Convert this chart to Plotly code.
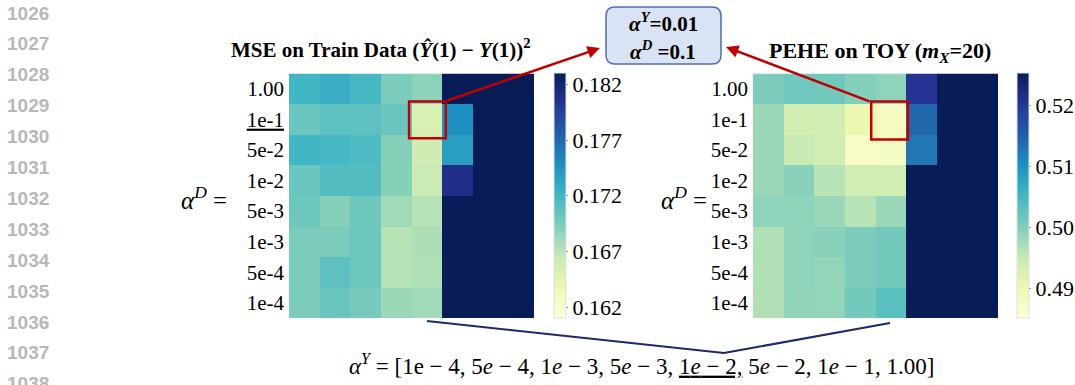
import plotly.graph_objects as go

W, H = 1075, 385

# ---------------- data ----------------
alpha_y_labels = ["1e-4", "5e-4", "1e-3", "5e-3", "1e-2", "5e-2", "1e-1", "1.00"]
alpha_d_labels = ["1.00", "1e-1", "5e-2", "1e-2", "5e-3", "1e-3", "5e-4", "1e-4"]  # top -> bottom

mse_train = [
    [0.1720, 0.1727, 0.1718, 0.1694, 0.1687, 0.1900, 0.1900, 0.1900],
    [0.1702, 0.1707, 0.1707, 0.1702, 0.1652, 0.1748, 0.1900, 0.1900],
    [0.1720, 0.1718, 0.1714, 0.1690, 0.1660, 0.1738, 0.1900, 0.1900],
    [0.1702, 0.1712, 0.1712, 0.1690, 0.1662, 0.1808, 0.1900, 0.1900],
    [0.1700, 0.1690, 0.1700, 0.1680, 0.1671, 0.1900, 0.1900, 0.1900],
    [0.1694, 0.1694, 0.1700, 0.1671, 0.1675, 0.1900, 0.1900, 0.1900],
    [0.1694, 0.1707, 0.1700, 0.1672, 0.1674, 0.1900, 0.1900, 0.1900],
    [0.1694, 0.1702, 0.1696, 0.1682, 0.1680, 0.1900, 0.1900, 0.1900],
]

pehe_toy = [
    [0.5003, 0.5015, 0.5013, 0.4999, 0.4991, 0.5203, 0.5300, 0.5300],
    [0.4983, 0.4935, 0.4939, 0.4902, 0.4882, 0.5144, 0.5300, 0.5300],
    [0.4983, 0.4947, 0.4939, 0.4874, 0.4878, 0.5128, 0.5300, 0.5300],
    [0.4983, 0.4995, 0.4963, 0.4939, 0.4939, 0.5300, 0.5300, 0.5300],
    [0.4991, 0.4991, 0.4983, 0.4963, 0.4983, 0.5300, 0.5300, 0.5300],
    [0.4967, 0.4991, 0.4995, 0.5003, 0.5011, 0.5300, 0.5300, 0.5300],
    [0.4967, 0.4991, 0.4988, 0.5003, 0.5011, 0.5300, 0.5300, 0.5300],
    [0.4967, 0.4989, 0.4988, 0.5011, 0.5031, 0.5300, 0.5300, 0.5300],
]

mse_ticks = [0.162, 0.167, 0.172, 0.177, 0.182]
pehe_ticks = [0.49, 0.50, 0.51, 0.52]
mse_range = (0.161, 0.183)
pehe_range = (0.4851, 0.5253)

line_numbers = [str(n) for n in range(1026, 1039)]
best_y, best_d = "1e-2", "1e-1"

# ---------------- style ----------------
SERIF = "Liberation Serif, Times New Roman, serif"
YLGNBU = ['#ffffd9', '#edf8b1', '#c7e9b4', '#7fcdbb', '#41b6c4',
          '#1d91c0', '#225ea8', '#253494', '#081d58']
cscale = [[i / 8, c] for i, c in enumerate(YLGNBU)]


def px(x):
    return x / W


def py(y):
    return 1 - y / H


left_dom_x = [px(289), px(534)]
right_dom_x = [px(753), px(998)]
dom_y = [py(318), py(73.5)]
cb_len = (318 - 73.5) / H
cb_y = py((318 + 73.5) / 2)


def cbar(x_left, ticks, fmt):
    return dict(
        x=px(x_left), xanchor="left", y=cb_y, yanchor="middle",
        xpad=0, ypad=0,
        len=cb_len, lenmode="fraction", thickness=12, thicknessmode="pixels",
        tickvals=ticks, tickformat=fmt, ticks="outside", ticklen=2,
        tickcolor="#888", outlinewidth=1, outlinecolor="#e0e0e0",
        tickfont=dict(family=SERIF, size=22, color="black"),
    )


fig = go.Figure()

fig.add_trace(go.Heatmap(
    z=mse_train, x=alpha_y_labels, y=alpha_d_labels,
    colorscale=cscale, zmin=mse_range[0], zmax=mse_range[1],
    xaxis="x", yaxis="y", colorbar=cbar(554, mse_ticks, ".3f"),
))

fig.add_trace(go.Heatmap(
    z=pehe_toy, x=alpha_y_labels, y=alpha_d_labels,
    colorscale=cscale, zmin=pehe_range[0], zmax=pehe_range[1],
    xaxis="x2", yaxis="y2", colorbar=cbar(1017, pehe_ticks, ".2f"),
))

left_ticktext = [f"<u>{l}</u>" if l == best_d else l for l in alpha_d_labels]

common_x = dict(showticklabels=False, ticks="", showgrid=False, zeroline=False,
                showline=False)
common_y = dict(ticks="", showgrid=False, zeroline=False, showline=False,
                autorange="reversed", tickmode="array", tickvals=alpha_d_labels,
                tickfont=dict(family=SERIF, size=21, color="black"),
                ticklabelstandoff=4)

fig.update_layout(
    width=W, height=H,
    margin=dict(l=0, r=0, t=0, b=0),
    paper_bgcolor="white", plot_bgcolor="white",
    showlegend=False,
    xaxis=dict(domain=left_dom_x, anchor="y", **common_x),
    yaxis=dict(domain=dom_y, anchor="x", ticktext=left_ticktext, **common_y),
    xaxis2=dict(domain=right_dom_x, anchor="y2", **common_x),
    yaxis2=dict(domain=dom_y, anchor="x2", ticktext=alpha_d_labels, **common_y),
)

ann = []

# line numbers in the page margin
for i, t in enumerate(line_numbers):
    ann.append(dict(xref="paper", yref="paper", x=px(5), y=py(13 + i * 30.9),
                    xanchor="left", yanchor="middle", text=f"<b>{t}</b>",
                    showarrow=False,
                    font=dict(family="Liberation Sans, Arial, sans-serif",
                              size=19, color="#b8b8b8")))

# alpha^D = labels
for xc in (204, 684):
    ann.append(dict(xref="paper", yref="paper", x=px(xc), y=py(198),
                    xanchor="center", yanchor="middle",
                    text="<i>α</i><sup><i>D</i></sup> =", showarrow=False,
                    font=dict(family=SERIF, size=25, color="black")))

# titles
ann.append(dict(xref="paper", yref="paper", x=px(381), y=py(49),
                xanchor="center", yanchor="middle", showarrow=False,
                text="<b>MSE on Train Data (<i>Ŷ</i>(1) − <i>Y</i>(1))<sup>2</sup></b>",
                font=dict(family=SERIF, size=21, color="black")))
ann.append(dict(xref="paper", yref="paper", x=px(880), y=py(52),
                xanchor="center", yanchor="middle", showarrow=False,
                text="<b>PEHE on TOY (<i>m</i><sub><i>X</i></sub>=20)</b>",
                font=dict(family=SERIF, size=22, color="black")))

# boxed best setting
ann.append(dict(xref="paper", yref="paper", x=px(663), y=py(22),
                xanchor="center", yanchor="middle", showarrow=False,
                text="<b><i>α</i><sup><i>Y</i></sup>=0.01</b>",
                font=dict(family=SERIF, size=21, color="black")))
ann.append(dict(xref="paper", yref="paper", x=px(663), y=py(51),
                xanchor="center", yanchor="middle", showarrow=False,
                text="<b><i>α</i><sup><i>D</i></sup> =0.1</b>",
                font=dict(family=SERIF, size=21, color="black")))

# red arrows from highlighted cells to the box
for (hx, hy, tx, ty) in [(600, 48, 446, 101), (726, 47, 871, 102)]:
    ann.append(dict(xref="paper", yref="paper", x=px(hx), y=py(hy),
                    axref="pixel", ayref="pixel", ax=tx - hx, ay=ty - hy,
                    text="", showarrow=True, arrowhead=2, arrowsize=1,
                    arrowwidth=2.5, arrowcolor="#c00000"))

# bottom alpha^Y list
ann.append(dict(xref="paper", yref="paper", x=px(641), y=py(364),
                xanchor="center", yanchor="middle", showarrow=False,
                text=("<i>α</i><sup><i>Y</i></sup> = [1e − 4, 5<i>e</i> − 4, 1<i>e</i> − 3, "
                      "5<i>e</i> − 3, <u>1<i>e</i> − 2,</u> 5<i>e</i> − 2, 1<i>e</i> − 1, 1.00]"),
                font=dict(family=SERIF, size=23, color="black")))

fig.update_layout(annotations=ann)

# shapes
bi = alpha_y_labels.index(best_y)
bj = alpha_d_labels.index(best_d)
shapes = []
shapes.append(dict(type="rect", xref="x", yref="y",
                   x0=bi - 0.58, x1=bi + 0.62, y0=bj - 0.58, y1=bj + 0.62,
                   line=dict(color="#c00000", width=2.5)))
shapes.append(dict(type="rect", xref="x2", yref="y2",
                   x0=bi - 0.64, x1=bi + 0.56, y0=bj - 0.58, y1=bj + 0.66,
                   line=dict(color="#c00000", width=2.5)))

# rounded box
x0, x1, y0, y1, r = 606, 721, 7, 64, 9
path = (f"M {px(x0 + r)} {py(y0)} L {px(x1 - r)} {py(y0)} "
        f"Q {px(x1)} {py(y0)} {px(x1)} {py(y0 + r)} "
        f"L {px(x1)} {py(y1 - r)} Q {px(x1)} {py(y1)} {px(x1 - r)} {py(y1)} "
        f"L {px(x0 + r)} {py(y1)} Q {px(x0)} {py(y1)} {px(x0)} {py(y1 - r)} "
        f"L {px(x0)} {py(y0 + r)} Q {px(x0)} {py(y0)} {px(x0 + r)} {py(y0)} Z")
shapes.append(dict(type="path", xref="paper", yref="paper", path=path,
                   fillcolor="#dae3f3", line=dict(color="#4a70b5", width=1.5),
                   layer="below"))

# V-shaped connector below the heatmaps
vpath = f"M {px(427)} {py(321)} L {px(724)} {py(353)} L {px(890)} {py(323)}"
shapes.append(dict(type="path", xref="paper", yref="paper", path=vpath,
                   line=dict(color="#1a2a6c", width=2)))

fig.update_layout(shapes=shapes)

fig.write_html("out.html", config={"displayModeBar": False},
               post_script="document.body.style.margin='0';")
